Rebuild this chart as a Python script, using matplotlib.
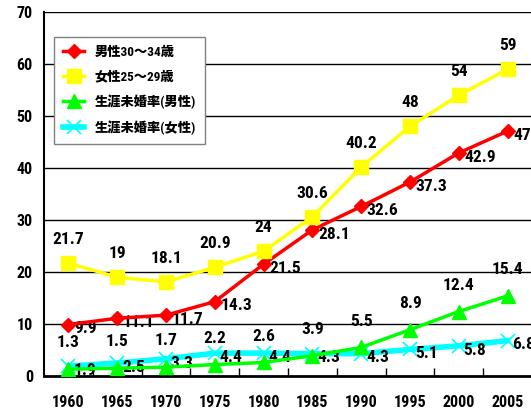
import matplotlib
matplotlib.use("Agg")
import matplotlib.pyplot as plt
from matplotlib import font_manager as fm

years = ["1960", "1965", "1970", "1975", "1980", "1985", "1990", "1995", "2000", "2005"]
male_30_34 = [9.9, 11.1, 11.7, 14.3, 21.5, 28.1, 32.6, 37.3, 42.9, 47.1]
female_25_29 = [21.7, 19, 18.1, 20.9, 24, 30.6, 40.2, 48, 54, 59]
lifetime_male = [1.3, 1.5, 1.7, 2.2, 2.6, 3.9, 5.5, 8.9, 12.4, 15.4]
lifetime_female = [1.9, 2.5, 3.3, 4.4, 4.4, 4.3, 4.3, 5.1, 5.8, 6.8]
series_names = ["男性30～34歳", "女性25～29歳", "生涯未婚率(男性)", "生涯未婚率(女性)"]
yticks = [0, 10, 20, 30, 40, 50, 60, 70]

avail = {f.name for f in fm.fontManager.ttflist}
num_font = ["DejaVu Sans"]
for cand in ["Roboto Condensed", "Liberation Sans Narrow", "Archivo Narrow", "Barlow Condensed"]:
    if cand in avail:
        num_font = [cand]
        break
fam = num_font + ["Noto Sans CJK JP", "DejaVu Sans"]
plt.rcParams['font.family'] = fam

fig = plt.figure(figsize=(5.31, 4.12), dpi=100)
ax = fig.add_axes([44/531, 36/412, 488/531, 364/412])

x = list(range(len(years)))
ax.set_xlim(-0.5, len(years) - 0.5)
ax.set_ylim(0, 70)

for v in yticks[1:]:
    ax.axhline(v, color="black", lw=1, zorder=1)

l1, = ax.plot(x, male_30_34, color="#ff0000", lw=2.5, marker="D", markersize=7.5, zorder=4)
l2, = ax.plot(x, female_25_29, color="#ffff00", lw=2.5, marker="s", markersize=9.5, zorder=4)
l3, = ax.plot(x, lifetime_male, color="#00ff00", lw=2.5, marker="^", markersize=9.5, zorder=4)
l4, = ax.plot(x, lifetime_female, color="#00ffff", lw=4, marker="x", markersize=10,
              markeredgewidth=1.2, zorder=3)

def fmt(v):
    return f"{v:g}"

lab = dict(fontsize=12.5, fontweight="bold", color="black", family=fam, annotation_clip=False)
for i in x:
    ax.annotate(fmt(male_30_34[i]), (i, male_30_34[i]), xytext=(4, -3),
                textcoords="offset points", ha="left", va="center", **lab)
    ax.annotate(fmt(female_25_29[i]), (i, female_25_29[i]), xytext=(0, 17),
                textcoords="offset points", ha="center", va="center", **lab)
    ax.annotate(fmt(lifetime_male[i]), (i, lifetime_male[i]), xytext=(0, 19),
                textcoords="offset points", ha="center", va="center", **lab)
    ax.annotate(fmt(lifetime_female[i]), (i, lifetime_female[i]), xytext=(3.5, -3),
                textcoords="offset points", ha="left", va="center", **lab)

ax.set_xticks(x)
ax.set_xticklabels(years)
ax.set_xticks([i + 0.5 for i in x[:-1]], minor=True)
ax.tick_params(axis="x", which="major", length=0, pad=14, labelsize=11.5)
ax.tick_params(axis="x", which="minor", direction="in", length=6, width=1)
ax.set_yticks(yticks)
ax.tick_params(axis="y", length=0, pad=8, labelsize=11.5)
for t in ax.get_xticklabels() + ax.get_yticklabels():
    t.set_fontweight("bold")

for s in ["top", "right"]:
    ax.spines[s].set_visible(False)
ax.spines["left"].set_linewidth(1.5)
ax.spines["bottom"].set_linewidth(2)

leg = ax.legend([l1, l2, l3, l4], series_names, loc="upper left",
                bbox_to_anchor=(0.02, 0.932), borderaxespad=0, fancybox=False,
                framealpha=1, edgecolor="#808080", handlelength=1.6,
                labelspacing=0.85, borderpad=0.7,
                prop={"family": num_font + ["Noto Sans CJK JP", "DejaVu Sans"], "weight": "heavy", "size": 9.5})
leg.get_frame().set_linewidth(1)
leg.set_zorder(5)

fig.savefig("out.png", dpi=100)
